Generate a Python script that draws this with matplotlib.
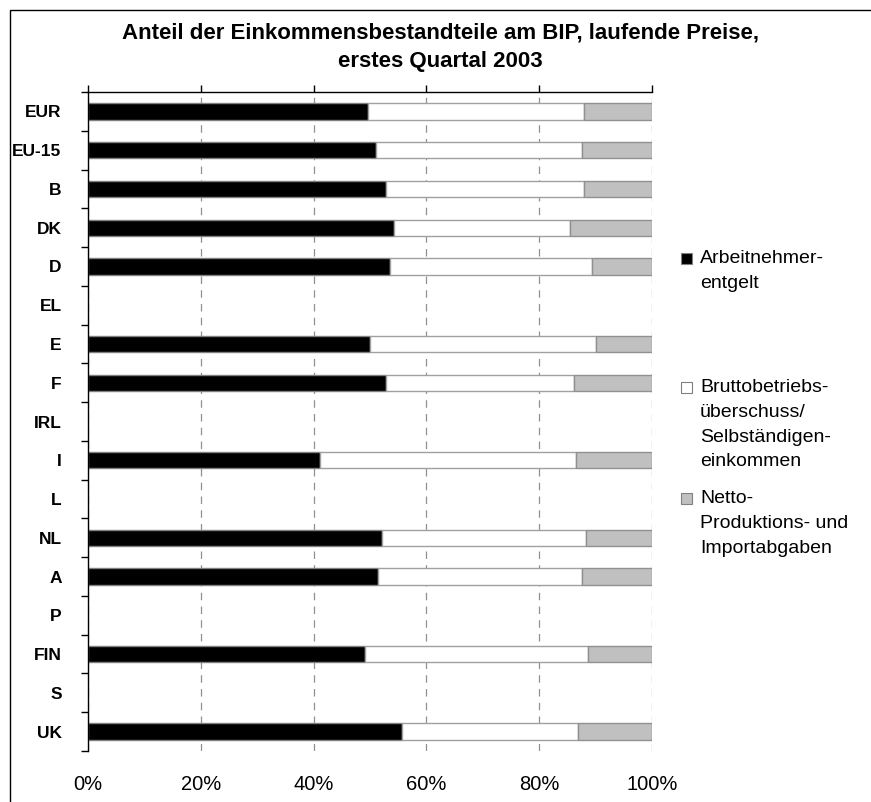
import numpy as np
import matplotlib
matplotlib.use('Agg')
import matplotlib.pyplot as plt
from matplotlib.patches import Rectangle

plt.rcParams['font.family'] = ['Liberation Sans', 'DejaVu Sans']

countries = ['EUR', 'EU-15', 'B', 'DK', 'D', 'EL', 'E', 'F', 'IRL', 'I',
             'L', 'NL', 'A', 'P', 'FIN', 'S', 'UK']
nan = np.nan
# Anteile in %, fehlende Länder ohne Daten
arbeitnehmer = [49.6, 51.1, 52.8, 54.3, 53.5, nan, 50.0, 52.8, nan, 41.1,
                nan, 52.1, 51.4, nan, 49.2, nan, 55.6]
brutto = [38.4, 36.4, 35.2, 31.2, 35.9, nan, 40.1, 33.4, nan, 45.4,
          nan, 36.2, 36.1, nan, 39.4, nan, 31.2]
netto = [12.0, 12.5, 12.0, 14.5, 10.6, nan, 9.9, 13.8, nan, 13.5,
         nan, 11.7, 12.5, nan, 11.4, nan, 13.2]

legend_labels = ['Arbeitnehmer-\nentgelt',
                 'Bruttobetriebs-\nüberschuss/\nSelbständigen-\neinkommen',
                 'Netto-\nProduktions- und\nImportabgaben']
colors = ['#000000', '#ffffff', '#c0c0c0']
title = 'Anteil der Einkommensbestandteile am BIP, laufende Preise,\nerstes Quartal 2003'

W, H = 871, 802
fig = plt.figure(figsize=(W / 100, H / 100), dpi=100)
ax = fig.add_axes([88 / W, 1 - 751 / H, (652 - 88) / W, (751 - 92) / H])

a = np.array(arbeitnehmer)
b = np.array(brutto)
c = np.array(netto)
y = np.arange(len(countries))
ok = ~np.isnan(a)

ax.barh(y[ok], a[ok], height=0.42, color=colors[0], edgecolor='#808080', linewidth=1)
ax.barh(y[ok], b[ok], left=a[ok], height=0.42, color=colors[1], edgecolor='#a0a0a0', linewidth=1)
ax.barh(y[ok], c[ok], left=a[ok] + b[ok], height=0.42, color=colors[2], edgecolor='#909090', linewidth=1)

ax.set_xlim(0, 100)
ax.set_ylim(len(countries) - 0.5, -0.5)
ax.set_xticks(np.arange(0, 101, 20))
ax.set_xticklabels(['%d%%' % v for v in range(0, 101, 20)], fontsize=14.5)
ax.tick_params(axis='x', top=True, bottom=False, labeltop=False, labelbottom=True,
               direction='out', length=5, width=1, pad=12)
ax.set_yticks(y)
ax.set_yticklabels(countries, fontsize=12.5, fontweight='bold')
ax.set_yticks(np.arange(-0.5, len(countries), 1), minor=True)
ax.tick_params(axis='y', which='major', length=0, pad=19)
ax.tick_params(axis='y', which='minor', length=5, width=1, direction='out')

ax.grid(axis='x', linestyle=(0, (6, 5)), color='#909090', linewidth=0.9)
ax.set_axisbelow(True)
ax.spines['right'].set_visible(False)
ax.spines['bottom'].set_visible(False)
ax.spines['top'].set_linewidth(1)
ax.spines['left'].set_linewidth(1)

fig.text(440 / W, 1 - 47 / H, title, ha='center', va='center', fontsize=16,
         fontweight='bold', linespacing=1.5)

# Legende von Hand gesetzt
leg_y = [258, 387, 498]
for lab, col, ly in zip(legend_labels, colors, leg_y):
    fig.patches.append(Rectangle((681 / W, 1 - (ly + 6) / H), 11 / W, 11 / H,
                                 transform=fig.transFigure, facecolor=col,
                                 edgecolor='#808080', linewidth=0.8))
    fig.text(700 / W, 1 - (ly - 8) / H, lab, ha='left', va='top', fontsize=14,
             linespacing=1.6)

# Rahmen um das Diagramm
fig.patches.append(Rectangle((10 / W, -0.1), 1.2, 1 - 10 / H + 0.1,
                             transform=fig.transFigure, facecolor='none',
                             edgecolor='black', linewidth=1))

fig.savefig('out.png', dpi=100)
